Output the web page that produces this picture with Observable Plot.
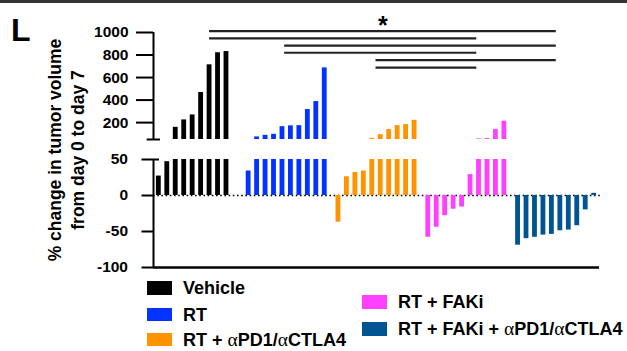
<!DOCTYPE html>
<html><head><meta charset="utf-8">
<script src="https://cdn.jsdelivr.net/npm/d3@7"></script>
<script src="https://cdn.jsdelivr.net/npm/@observablehq/plot@0.6"></script>
<style>
body{margin:0;background:#fff;font-family:"Liberation Sans",Arial,sans-serif;}
#wrap{position:relative;width:627px;height:351px;overflow:hidden;background:#fff;}
#wrap svg{position:absolute;left:0;}
.topline{position:absolute;left:0;top:0;width:627px;height:3px;background:#333;}
.panel{position:absolute;left:11px;top:14px;font-size:32px;line-height:32px;font-weight:bold;color:#000;}
.ylab{position:absolute;left:-63px;top:127px;width:260px;height:46px;transform:rotate(-90deg);transform-origin:center;text-align:center;font-size:17.5px;line-height:23px;font-weight:bold;color:#000;}
.leg{position:absolute;display:flex;align-items:center;font-size:18px;line-height:20px;font-weight:bold;color:#000;white-space:nowrap;}
.leg .sw{width:25px;height:13.5px;margin-right:11px;}
.alpha{font-family:"Liberation Serif","Times New Roman",serif;font-weight:normal;font-size:19.5px;}
</style></head><body><div id="wrap"></div>
<script>
// ---- data ----
const groups = ["Vehicle", "RT", "RT + αPD1/αCTLA4", "RT + FAKi", "RT + FAKi + αPD1/αCTLA4"];
const colors = ["#000000", "#0433FF", "#FF9300", "#FF40FF", "#005493"];
const vehicle = [27, 47, 158, 224, 268, 467, 713, 820, 831];
const rt = [34, 73, 87, 96, 164, 171, 173, 316, 387, 686];
const rtCheckpoint = [-37, 26, 32, 34, 60, 93, 138, 173, 182, 220];
const rtFaki = [-58, -44, -28, -19, -16, 29, 55, 58, 138, 212];
const rtFakiCheckpoint = [-69, -60, -58, -55, -54, -49, -48, -42, -20, 3];
const topTicks = [200, 400, 600, 800, 1000];
const bottomTicks = [-100, -50, 0, 50];
const comparisons = [[0, 4], [0, 3], [1, 4], [1, 3], [2, 4], [2, 3]];
const bracketAnchor = [6.0, 4.26, 4.44, 5.74, 4.52];
const bracketY = [1012, 947, 884, 820, 754, 689];
const starY = 1058;
const yLabel = ["% change in tumor volume", "from day 0 to day 7"];

// ---- layout ----
const series = [vehicle, rt, rtCheckpoint, rtFaki, rtFakiCheckpoint];
const groupStep = 10.62, barW = 0.57;
const rows = series.flatMap((vals, g) => vals.map((v, i) => ({group: groups[g], g, pos: g * groupStep + i, value: v})));
const xDomain = [-0.63, 4 * groupStep + 9 + 0.63];
const anchorX = g => g * groupStep + bracketAnchor[g];
const font = {fontFamily: "'Liberation Sans', Arial, sans-serif", fontSize: "15.5px", fontWeight: "bold", color: "#000", background: "transparent", overflow: "visible"};
const color = {domain: groups, range: colors};

const topPlot = Plot.plot({
  width: 627, height: 146, marginLeft: 153, marginRight: 28, marginTop: 32, marginBottom: 7,
  x: {domain: xDomain, axis: null},
  y: {domain: [50, 1000]},
  color,
  style: font,
  marks: [
    Plot.rect(rows.filter(d => d.value > 50), {x1: d => d.pos - barW / 2, x2: d => d.pos + barW / 2, y1: 50, y2: "value", fill: "group"}),
    Plot.axisY({ticks: topTicks, tickSize: 17, tickPadding: 8, strokeWidth: 2, label: null, fontSize: 15.5, fontWeight: "bold", tickFormat: d => String(d)}),
    Plot.ruleX([xDomain[0]], {y1: 50, y2: 1000, strokeWidth: 2}),
    Plot.ruleY([50], {x1: xDomain[0] - 0.75, x2: xDomain[0] + 0.83, strokeWidth: 2}),
    Plot.ruleY(comparisons, {y: (d, i) => bracketY[i], x1: d => anchorX(d[0]), x2: d => anchorX(d[1]), stroke: "#222", strokeWidth: 2.2}),
    Plot.text(["*"], {x: (anchorX(comparisons[0][0]) + anchorX(comparisons[0][1])) / 2, y: starY, text: d => d, fontSize: 25, fontWeight: "bold", fill: "#000"})
  ]
});
topPlot.style.top = "0px";

const bottomPlot = Plot.plot({
  width: 627, height: 130, marginLeft: 153, marginRight: 28, marginTop: 13, marginBottom: 9,
  x: {domain: xDomain, axis: null},
  y: {domain: [-100, 50]},
  color,
  style: font,
  marks: [
    Plot.ruleY([0], {x1: xDomain[0], x2: xDomain[1] + 0.1, stroke: "#000", strokeWidth: 1.6, strokeDasharray: "1.6,2.6"}),
    Plot.rect(rows, {x1: d => d.pos - barW / 2, x2: d => d.pos + barW / 2, y1: 0, y2: d => Math.min(d.value, 50), fill: "group"}),
    Plot.axisY({ticks: bottomTicks, tickSize: 11.5, tickPadding: 14, strokeWidth: 2, label: null, fontSize: 15.5, fontWeight: "bold", tickFormat: d => String(d)}),
    Plot.ruleX([xDomain[0]], {y1: -100, y2: 50, strokeWidth: 2}),
    Plot.ruleY([-100], {x1: xDomain[0], x2: xDomain[1], strokeWidth: 2.4}),
    Plot.ruleY([50], {x1: xDomain[0], x2: xDomain[0] + 0.71, strokeWidth: 2})
  ]
});
bottomPlot.style.top = "146px";

const wrap = document.getElementById("wrap");
wrap.append(topPlot, bottomPlot);

const add = (cls, html, css) => { const d = document.createElement("div"); d.className = cls; d.innerHTML = html; if (css) Object.assign(d.style, css); wrap.append(d); return d; };
add("topline", "");
add("panel", "L");
add("ylab", yLabel.join("<br>"));

const fmt = s => s.replace(/α/g, '<span class="alpha">α</span>');
const legendPos = [
  {left: "147px", cy: 288}, {left: "147px", cy: 314.5}, {left: "147px", cy: 339.5},
  {left: "362px", cy: 302}, {left: "362px", cy: 329}
];
groups.forEach((g, i) => {
  const p = legendPos[i];
  add("leg", `<div class="sw" style="background:${colors[i]}"></div><span>${fmt(g)}</span>`, {left: p.left, top: (p.cy - 11) + "px", height: "22px"});
});
</script>
</body></html>
